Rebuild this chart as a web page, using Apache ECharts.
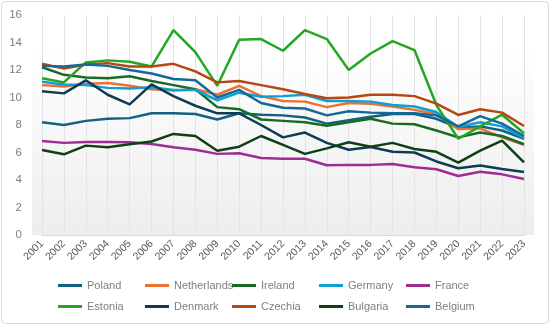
<!DOCTYPE html>
<html>
<head>
<meta charset="utf-8">
<script src="https://cdn.jsdelivr.net/npm/echarts@6/dist/echarts.min.js"></script>
<style>
html,body{margin:0;padding:0;background:#fff;}
#chart{width:550px;height:325px;}
</style>
</head>
<body>
<div id="chart"></div>
<script>
var years = ['2001','2002','2003','2004','2005','2006','2007','2008','2009','2010','2011','2012','2013','2014','2015','2016','2017','2018','2019','2020','2021','2022','2023'];
var yTicks = [0, 2, 4, 6, 8, 10, 12, 14, 16];

var poland      = [8.2, 8.0, 8.3, 8.45, 8.5, 8.85, 8.85, 8.8, 8.4, 8.85, 8.75, 8.7, 8.55, 8.1, 8.35, 8.6, 8.8, 8.8, 8.45, 7.8, 7.9, 7.6, 7.0];
var netherlands = [10.9, 10.8, 11.0, 11.05, 10.85, 10.6, 10.5, 10.6, 10.2, 10.85, 10.1, 9.75, 9.7, 9.3, 9.6, 9.55, 9.35, 9.1, 8.8, 7.7, 7.75, 7.1, 6.55];
var ireland     = [12.2, 11.65, 11.45, 11.4, 11.55, 11.2, 10.9, 10.6, 9.3, 9.15, 8.4, 8.3, 8.2, 7.95, 8.2, 8.45, 8.1, 8.05, 7.6, 7.1, 7.45, 7.2, 6.6];
var germany     = [11.15, 10.95, 10.9, 10.7, 10.65, 10.75, 10.55, 10.55, 9.8, 10.35, 10.05, 10.1, 10.2, 9.75, 9.75, 9.7, 9.45, 9.35, 8.95, 7.85, 8.2, 7.9, 7.05];
var france      = [6.84, 6.7, 6.76, 6.76, 6.74, 6.62, 6.38, 6.2, 5.9, 5.95, 5.6, 5.55, 5.55, 5.07, 5.1, 5.1, 5.16, 4.92, 4.78, 4.29, 4.6, 4.41, 4.07];
var estonia     = [11.4, 11.1, 12.55, 12.7, 12.6, 12.25, 14.9, 13.3, 10.85, 14.2, 14.25, 13.4, 14.9, 14.25, 12.0, 13.2, 14.1, 13.45, 9.45, 7.0, 7.9, 8.75, 7.4];
var denmark     = [10.45, 10.3, 11.25, 10.2, 9.5, 10.95, 10.1, 9.4, 8.85, 8.85, 8.0, 7.1, 7.45, 6.7, 6.2, 6.4, 6.05, 6.0, 5.35, 4.85, 5.05, 4.8, 4.58];
var czechia     = [12.45, 12.1, 12.4, 12.5, 12.25, 12.25, 12.45, 11.9, 11.1, 11.2, 10.9, 10.6, 10.25, 9.95, 10.0, 10.2, 10.2, 10.1, 9.55, 8.73, 9.15, 8.9, 7.93];
var bulgaria    = [6.18, 5.87, 6.5, 6.38, 6.6, 6.8, 7.35, 7.2, 6.13, 6.42, 7.2, 6.55, 5.9, 6.3, 6.74, 6.42, 6.7, 6.25, 6.05, 5.26, 6.13, 6.86, 5.28];
var belgium     = [12.3, 12.25, 12.4, 12.3, 12.0, 11.75, 11.35, 11.25, 10.0, 10.55, 9.6, 9.25, 9.2, 8.7, 9.0, 8.9, 8.85, 8.85, 8.7, 7.9, 8.65, 8.1, 7.2];

var names  = ['Poland','Netherlands','Ireland','Germany','France','Estonia','Denmark','Czechia','Bulgaria','Belgium'];
var values = [poland, netherlands, ireland, germany, france, estonia, denmark, czechia, bulgaria, belgium];
var colors = ['#156082','#E97132','#196B24','#0F9ED5','#A02B93','#22A722','#0F3B55','#B5470F','#0D4015','#15689A'];

var chart = echarts.init(document.getElementById('chart'), null, {renderer:'canvas'});
var FONT = 'Liberation Sans';

var series = names.map(function(n, i){
  return {
    name: n, type: 'line', data: values[i], symbol: 'none', smooth: false,
    lineStyle: {width: 2.5, color: colors[i]}, itemStyle: {color: colors[i]}, z: 3
  };
});

var legends = names.map(function(n, i){
  var col = i % 5, row = Math.floor(i / 5);
  return {
    data: [n], left: 58 + 87 * col, top: 280 + 21 * row, padding: 0,
    icon: 'rect', itemWidth: 24, itemHeight: 3, itemGap: 0,
    textStyle: {color: '#7f7f7f', fontSize: 11, fontFamily: FONT},
    selectedMode: false
  };
});

chart.setOption({
  animation: false,
  color: colors,
  textStyle: {fontFamily: FONT},
  graphic: [
    {type: 'rect', z: -10, silent: true,
     shape: {x: 1.5, y: 1.5, width: 547, height: 322, r: 4},
     style: {fill: '#ffffff', stroke: '#d9d9d9', lineWidth: 1}},
    {type: 'rect', z: -9, silent: true,
     shape: {x: 32, y: 15, width: 502, height: 220},
     style: {fill: new echarts.graphic.LinearGradient(0, 0, 0, 1, [
       {offset: 0, color: '#ffffff'}, {offset: 0.15, color: '#ffffff'}, {offset: 1, color: '#ededed'}])}}
  ],
  grid: {left: 42, right: 26, top: 15, bottom: 90, containLabel: false},
  legend: legends,
  xAxis: {
    type: 'category', data: years, boundaryGap: false,
    axisLine: {show: true, lineStyle: {color: '#d9d9d9', width: 1}},
    axisTick: {show: false},
    splitLine: {show: true, lineStyle: {color: '#e3e3e3', width: 1}},
    axisLabel: {rotate: 45, interval: 0, color: '#595959', fontSize: 10.5, fontFamily: FONT, margin: 7}
  },
  yAxis: {
    type: 'value', min: yTicks[0], max: yTicks[yTicks.length - 1], interval: 2,
    axisLine: {show: false}, axisTick: {show: false}, splitLine: {show: false},
    axisLabel: {color: '#7f7f7f', fontSize: 11.5, fontFamily: FONT, margin: 20}
  },
  series: series
});
</script>
</body>
</html>
